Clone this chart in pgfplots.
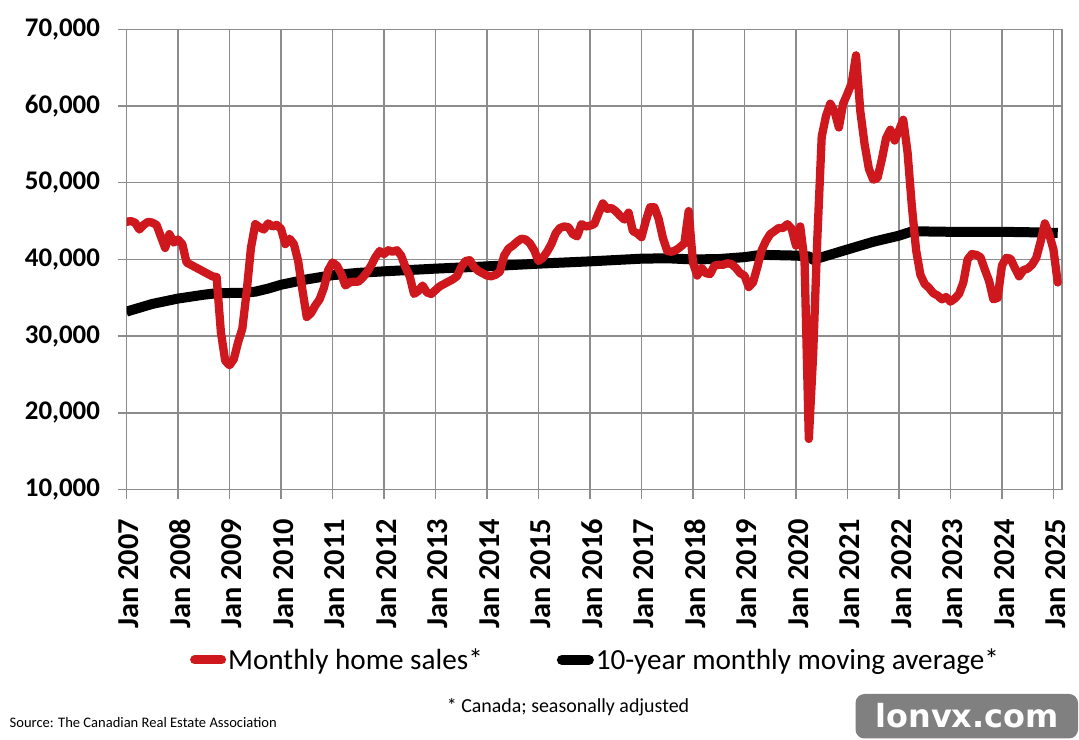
\documentclass[border=0pt]{standalone}
\usepackage{fontspec}
\setmainfont{Carlito}
\newfontfamily\wmfont{DejaVu Sans}
\usepackage{pgfplots}
\pgfplotsset{compat=1.18}
\usepackage{pgfplotstable}

\definecolor{salesred}{RGB}{206,24,30}
\definecolor{gridgray}{RGB}{140,140,140}
\definecolor{badgegray}{RGB}{128,128,128}

% Monthly home sales (seasonally adjusted), month 0 = Jan 2007
\pgfplotstableread{
m sales
0 44900
1 45000
2 44800
3 43900
4 44500
5 44900
6 44800
7 44500
8 43000
9 41500
10 43300
11 42200
12 42600
13 42000
14 39600
15 39300
16 39000
17 38700
18 38400
19 38100
20 37800
21 37700
22 30500
23 26800
24 26200
25 27000
26 29200
27 31000
28 35800
29 41500
30 44600
31 44200
32 43900
33 44700
34 44300
35 44500
36 44000
37 42000
38 42700
39 42000
40 39800
41 36000
42 32500
43 33000
44 34000
45 34800
46 36300
47 38600
48 39600
49 39200
50 38200
51 36600
52 37000
53 37100
54 37100
55 37600
56 38300
57 39200
58 40300
59 41100
60 40700
61 41200
62 41000
63 41200
64 40500
65 39000
66 37800
67 35500
68 35900
69 36600
70 35700
71 35500
72 36000
73 36500
74 36800
75 37100
76 37400
77 37800
78 39000
79 39800
80 39900
81 39000
82 38500
83 38200
84 37900
85 37800
86 38000
87 38400
88 40500
89 41400
90 41800
91 42300
92 42700
93 42600
94 42100
95 41200
96 39800
97 40200
98 41000
99 42000
100 43400
101 44100
102 44300
103 44200
104 43300
105 43000
106 44600
107 44300
108 44400
109 44600
110 46000
111 47300
112 46600
113 46700
114 46300
115 45700
116 45200
117 46100
118 43700
119 43400
120 42900
121 45000
122 46800
123 46800
124 45300
125 42800
126 41100
127 41000
128 41200
129 41600
130 42100
131 46300
132 39600
133 37900
134 38900
135 38200
136 38100
137 39200
138 39300
139 39300
140 39500
141 39400
142 38900
143 38200
144 37900
145 36400
146 37000
147 39000
148 41200
149 42400
150 43300
151 43700
152 44100
153 44100
154 44600
155 44000
156 41800
157 44300
158 39800
159 16600
160 27500
161 43000
162 56000
163 58700
164 60300
165 59300
166 57200
167 60300
168 61600
169 63000
170 66600
171 59300
172 55000
173 51800
174 50400
175 50600
176 53000
177 55800
178 56900
179 55500
180 56800
181 58200
182 54000
183 47000
184 41200
185 38000
186 36800
187 36300
188 35600
189 35300
190 34800
191 35100
192 34500
193 34900
194 35500
195 37000
196 40000
197 40700
198 40600
199 40300
200 38700
201 37200
202 34800
203 35000
204 39200
205 40200
206 40100
207 38900
208 37800
209 38600
210 38800
211 39300
212 40200
213 42300
214 44700
215 43300
216 41300
217 37000
}\salestable

% 10-year monthly moving average
\pgfplotstableread{
m avg
0 33200
6 34200
12 34900
18 35400
21 35600
27 35650
30 35800
33 36200
36 36700
42 37400
48 37950
54 38250
60 38450
72 38800
84 39100
96 39450
108 39750
120 40100
126 40150
132 40000
138 40050
144 40300
148 40600
156 40500
159 40400
160 39950
168 41300
174 42300
180 43100
183 43650
186 43650
192 43600
204 43600
210 43550
217 43450
}\avgtable

\begin{document}
\begin{tikzpicture}[x=1bp,y=1bp]
\useasboundingbox (0,0) rectangle (1079,740);
\begin{axis}[
  at={(126.5bp,250.4bp)}, anchor=south west,
  scale only axis, width=935.5bp, height=460.3bp,
  xmin=0, xmax=218, ymin=10000, ymax=70000,
  xtick={0,12,...,216},
  xticklabels={Jan 2007,Jan 2008,Jan 2009,Jan 2010,Jan 2011,Jan 2012,Jan 2013,Jan 2014,Jan 2015,Jan 2016,Jan 2017,Jan 2018,Jan 2019,Jan 2020,Jan 2021,Jan 2022,Jan 2023,Jan 2024,Jan 2025},
  ytick={10000,20000,30000,40000,50000,60000,70000},
  yticklabels={{10,000},{20,000},{30,000},{40,000},{50,000},{60,000},{70,000}},
  scaled y ticks=false,
  xtick pos=bottom, ytick pos=left,
  tick align=outside, major tick length=9bp,
  grid=major,
  grid style={gridgray, line width=1.4bp},
  axis line style={gridgray, line width=1.4bp},
  tick style={gridgray, line width=1.4bp},
  xticklabel shift=17bp, yticklabel shift=14bp,
  xticklabel style={font=\bfseries\fontsize{30.5}{30.5}\selectfont, xshift=2.5bp, rotate=90, anchor=east},
  yticklabel style={font=\bfseries\fontsize{27}{27}\selectfont, anchor=east},
  legend columns=2,
  legend image code/.code={\draw[#1] (0bp,0bp) -- (27bp,0bp);},
  legend style={at={(0.5013,-0.37)}, anchor=center, draw=none, fill=none,
    font=\fontsize{29.3}{29.3}\selectfont,
    /tikz/every even column/.append style={column sep=72bp}},
]
\addlegendimage{salesred, line width=9bp, line cap=round}
\addlegendentry{Monthly home sales*}
\addlegendimage{black, line width=10bp, line cap=round}
\addlegendentry{10-year monthly moving average*}

\addplot[forget plot, black, line width=10bp, line join=round] table[x=m, y=avg] {\avgtable};
\addplot[forget plot, salesred, line width=8.3bp, line join=round, line cap=round] table[x=m, y=sales] {\salestable};
\end{axis}

\node[font=\fontsize{20}{20}\selectfont, anchor=center] at (568,33) {* Canada; seasonally adjusted};
\node[font=\fontsize{14.6}{14.6}\selectfont, anchor=west, inner sep=0pt] at (9.5,17) {Source: The Canadian Real Estate Association};

% site badge
\fill[badgegray, rounded corners=9bp] (855.5,1.5) rectangle (1078,46);
\node[font=\wmfont\bfseries\fontsize{32}{32}\selectfont, text=white] at (967,24) {lonvx.com};
\end{tikzpicture}
\end{document}
